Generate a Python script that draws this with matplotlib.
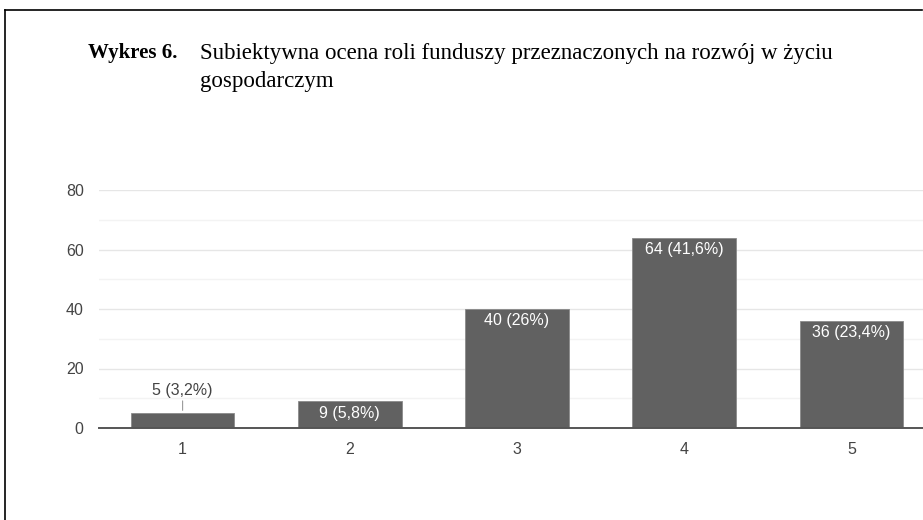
import matplotlib.pyplot as plt
from matplotlib.lines import Line2D

# ---------------- data ----------------
categories = ["1", "2", "3", "4", "5"]
counts = [5, 9, 40, 64, 36]
labels = ["5 (3,2%)", "9 (5,8%)", "40 (26%)", "64 (41,6%)", "36 (23,4%)"]
y_ticks = [0, 20, 40, 60, 80]

W, H = 923, 520
fig = plt.figure(figsize=(W / 100, H / 100), dpi=100)

# axes placed in pixel terms; right side runs off the page like the scan
left, right, bottom, top = 99, 935, 428, 190
ax = fig.add_axes([left / W, 1 - bottom / H, (right - left) / W, (bottom - top) / H])

x = list(range(1, len(categories) + 1))
ax.bar(x, counts, width=0.62, color="#616161", edgecolor="#8a8a8a", linewidth=0.6, zorder=3)

ax.set_xlim(0.5, 5.5)
ax.set_ylim(0, 80)
ax.set_yticks(y_ticks)
ax.set_yticks([10, 30, 50, 70], minor=True)
ax.set_xticks(x)
ax.set_xticklabels(categories)
ax.grid(axis="y", which="major", color="#e6e6e6", linewidth=1.0, zorder=0)
ax.grid(axis="y", which="minor", color="#f3f3f3", linewidth=1.0, zorder=0)
for s in ["top", "right", "left"]:
    ax.spines[s].set_visible(False)
ax.spines["bottom"].set_color("#555555")
ax.spines["bottom"].set_linewidth(1.4)
ax.spines["bottom"].set_zorder(4)
ax.tick_params(axis="both", which="both", length=0, labelsize=11.5, labelcolor="#444444",
               labelfontfamily="Liberation Sans")
ax.tick_params(axis="y", pad=11)
ax.tick_params(axis="x", pad=10)

for xi, c, lab in zip(x, counts, labels):
    if c < 8:
        # small bar: label sits above with a thin leader line
        ax.annotate(lab, (xi, c), xytext=(0, 23), textcoords="offset pixels",
                    ha="center", va="center", fontsize=11.5, color="#444444",
                    family="Liberation Sans")
        ax.annotate("", (xi, c), xytext=(0, 15), textcoords="offset pixels",
                    arrowprops=dict(arrowstyle="-", color="#999999", lw=0.8))
    else:
        ax.annotate(lab, (xi, c), xytext=(0, -12), textcoords="offset pixels",
                    ha="center", va="center", fontsize=11.5, color="white",
                    family="Liberation Sans", zorder=5)

# title
fig.text(88 / W, 1 - 53 / H, "Wykres 6.", fontsize=15, fontweight="bold",
         family="Liberation Serif", va="center", ha="left")
fig.text(200 / W, 1 - 53 / H,
         "Subiektywna ocena roli funduszy przeznaczonych na rozwój w życiu",
         fontsize=16.5, family="Liberation Serif", va="center", ha="left")
fig.text(200 / W, 1 - 81 / H, "gospodarczym", fontsize=16.5,
         family="Liberation Serif", va="center", ha="left")

# page frame
fig.add_artist(Line2D([5 / W, 922 / W], [1 - 10 / H, 1 - 10 / H], color="black", lw=1.2))
fig.add_artist(Line2D([5 / W, 5 / W], [1 - 10 / H, 0], color="black", lw=1.2))

fig.savefig("out.png", dpi=100)
